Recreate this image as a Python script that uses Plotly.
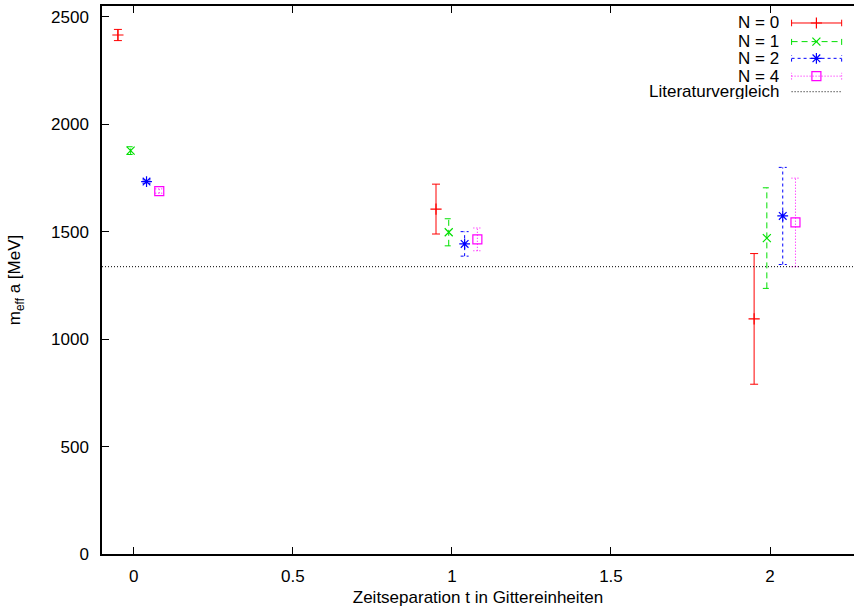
import plotly.graph_objects as go

# ---- data ----
T = [0, 1, 2]
SERIES = ["N = 0", "N = 1", "N = 2", "N = 4"]
OFFSETS = [-0.05, -0.01, 0.04, 0.08]
N0_m = [2415, 1605, 1094]
N0_e = [26, 116, 304]
N1_m = [1877, 1497, 1470]
N1_e = [18, 63, 234]
N2_m = [1733, 1443, 1573]
N2_e = [8, 57, 226]
N4_m = [1689, 1464, 1543]
N4_e = [10, 53, 206]
LIT = 1337
LIT_LABEL = "Literaturvergleich"
X_TICKS = [0, 0.5, 1, 1.5, 2]
X_TICK_TEXT = ["0", "0.5", "1", "1.5", "2"]
Y_TICKS = [0, 500, 1000, 1500, 2000, 2500]

# ---- styles ----
COLORS = ["#ff0000", "#00e000", "#0000ff", "#ff00ff"]
DASHES = ["solid", "6px,4px", "3px,3px", "1px,2px"]
SYMBOLS = ["cross-thin-open", "x-thin-open", "asterisk-open", "square-open"]
MSIZE = [8, 8, 9, 9]
FONT = "Liberation Sans, Arial, Helvetica, sans-serif"
FS = 17

W, H = 854, 610
ML, MR, MT, MB = 102, 0, 6, 56
XR = [-0.1, 2.264]
YR = [0, 2550]
px_per_x = (W - ML - MR) / (XR[1] - XR[0])
CAP = 4 / px_per_x

fig = go.Figure()

means = [N0_m, N1_m, N2_m, N4_m]
errs = [N0_e, N1_e, N2_e, N4_e]

for i, name in enumerate(SERIES):
    xs = [t + OFFSETS[i] for t in T]
    ex, ey = [], []
    for x, m, e in zip(xs, means[i], errs[i]):
        lo, hi = m - e, m + e
        ex += [x, x, None, x - CAP, x + CAP, None, x - CAP, x + CAP, None]
        ey += [lo, hi, None, lo, lo, None, hi, hi, None]
    fig.add_trace(go.Scatter(x=ex, y=ey, mode="lines",
                             line=dict(color=COLORS[i], width=1, dash=DASHES[i]),
                             hoverinfo="skip", showlegend=False))
    fig.add_trace(go.Scatter(x=xs, y=means[i], mode="markers", name=name,
                             marker=dict(symbol=SYMBOLS[i], size=MSIZE[i],
                                         color=COLORS[i],
                                         line=dict(color=COLORS[i], width=1.2)),
                             showlegend=False))

fig.add_shape(type="line", xref="paper", x0=0, x1=1, yref="y", y0=LIT, y1=LIT,
              line=dict(color="black", width=1, dash="1px,2px"))

# ---- custom gnuplot-style legend (text left, sample right) ----
ROW_Y = [0.969, 0.935, 0.9045, 0.872, 0.8436]
TXT_X = 0.9016
L0, L1, LM = 0.917, 0.9836, 0.950
CAPH = 0.006
labels = SERIES + [LIT_LABEL]
for k, lab in enumerate(labels):
    fig.add_annotation(x=TXT_X, y=ROW_Y[k], xref="paper", yref="paper", text=lab,
                       showarrow=False, xanchor="right", yanchor="middle",
                       borderpad=0, height=15, valign="middle",
                       font=dict(family=FONT, size=FS, color="black"))
for i in range(len(SERIES)):
    yy = ROW_Y[i]
    fig.add_trace(go.Scatter(
        x=[L0, L1, None, L0, L0, None, L1, L1],
        y=[yy, yy, None, yy - CAPH, yy + CAPH, None, yy - CAPH, yy + CAPH],
        xaxis="x2", yaxis="y2", mode="lines",
        line=dict(color=COLORS[i], width=1, dash=DASHES[i]),
        hoverinfo="skip", showlegend=False))
    fig.add_trace(go.Scatter(
        x=[LM], y=[yy], xaxis="x2", yaxis="y2", mode="markers",
        marker=dict(symbol=SYMBOLS[i], size=MSIZE[i], color=COLORS[i],
                    line=dict(color=COLORS[i], width=1.2)),
        hoverinfo="skip", showlegend=False))
fig.add_trace(go.Scatter(
    x=[L0, L1], y=[ROW_Y[4], ROW_Y[4]], xaxis="x2", yaxis="y2", mode="lines",
    line=dict(color="black", width=1, dash="1px,2px"),
    hoverinfo="skip", showlegend=False))

axis_common = dict(showgrid=False, zeroline=False, showline=True, linecolor="black",
                   linewidth=1.5, ticks="inside", ticklen=7, tickwidth=1,
                   tickcolor="black", tickfont=dict(family=FONT, size=FS, color="black"))

fig.update_layout(
    width=W, height=H,
    margin=dict(l=ML, r=MR, t=MT, b=MB),
    paper_bgcolor="white", plot_bgcolor="white",
    showlegend=False,
    font=dict(family=FONT, size=FS, color="black"),
    xaxis=dict(range=XR, tickvals=X_TICKS, ticktext=X_TICK_TEXT, mirror="ticks",
               ticklabelstandoff=6,
               title=dict(text="Zeitseparation t in Gittereinheiten",
                          font=dict(family=FONT, size=FS), standoff=6),
               **axis_common),
    yaxis=dict(range=YR, tickvals=Y_TICKS, mirror=False,
               ticklabelstandoff=8,
               title=dict(text="m<sub>eff</sub> a [MeV]",
                          font=dict(family=FONT, size=FS), standoff=26),
               **axis_common),
    xaxis2=dict(overlaying="x", range=[0, 1], visible=False, fixedrange=True),
    yaxis2=dict(overlaying="y", range=[0, 1], visible=False, fixedrange=True),
)

fig.write_html("out.html")
